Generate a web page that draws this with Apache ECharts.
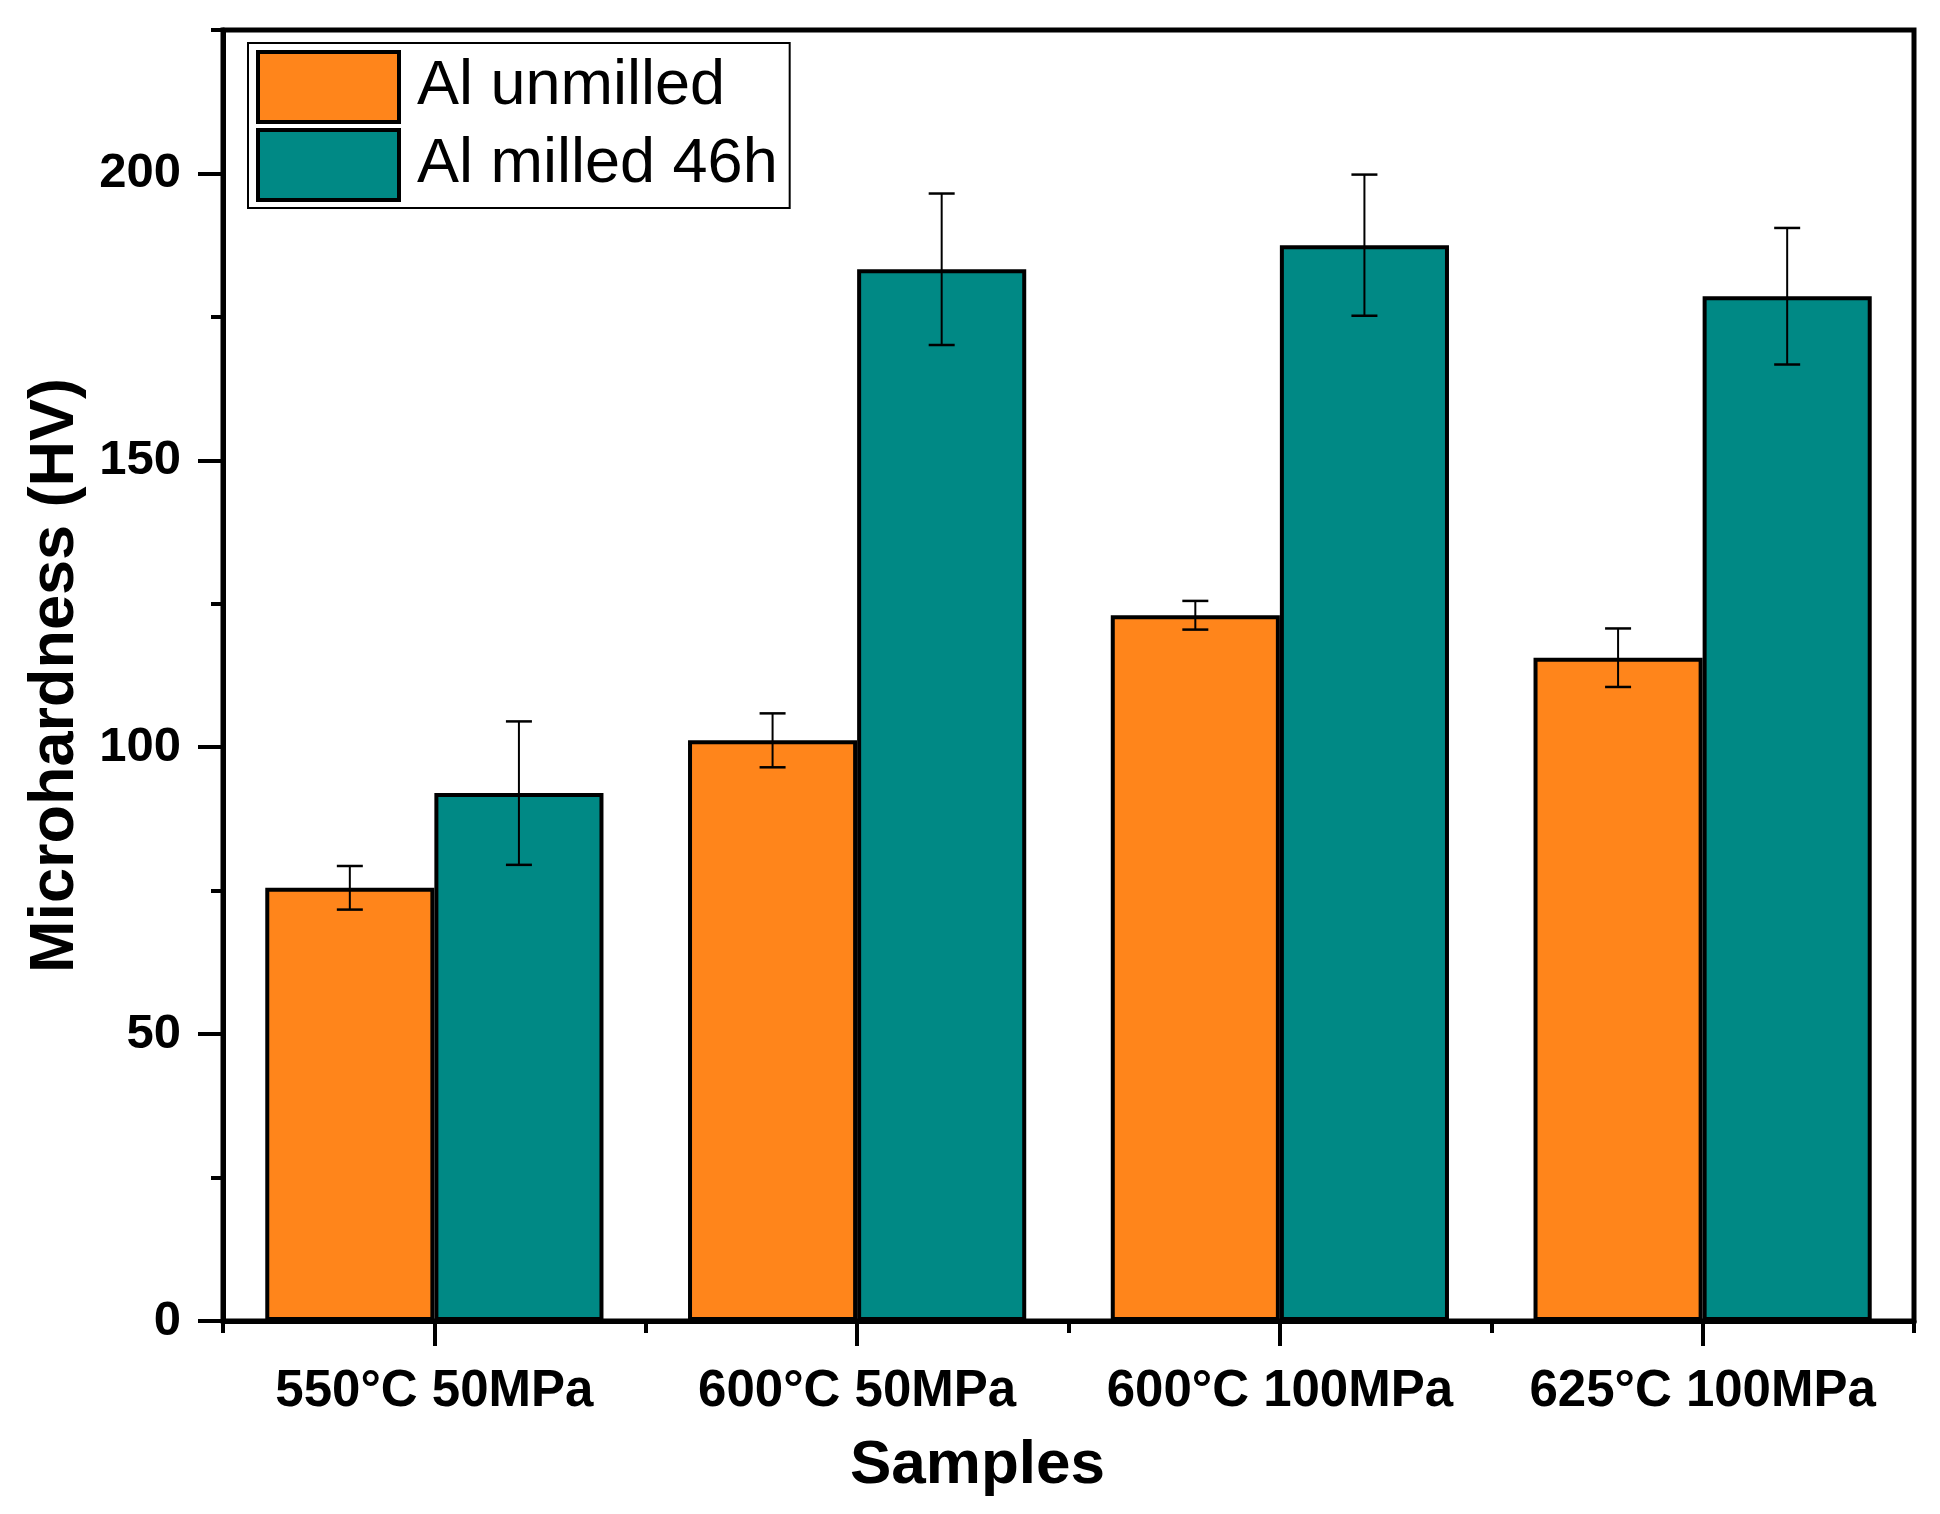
<!DOCTYPE html>
<html>
<head>
<meta charset="utf-8">
<script src="https://cdn.jsdelivr.net/npm/echarts@6/dist/echarts.min.js"></script>
<style>
html,body{margin:0;padding:0;background:#fff;}
#chart{width:1940px;height:1514px;}
</style>
</head>
<body>
<div id="chart"></div>
<script>
const categories = ['550°C 50MPa', '600°C 50MPa', '600°C 100MPa', '625°C 100MPa'];
const seriesNames = ['Al unmilled', 'Al milled 46h'];
const unmilled = [75.5, 101.2, 123.0, 115.6];
const unmilledErr = [3.8, 4.7, 2.5, 5.1];
const milled = [92.0, 183.3, 187.5, 178.6];
const milledErr = [12.5, 13.2, 12.3, 11.9];
const majorTicks = [0, 50, 100, 150, 200];
const minorTicks = [25, 75, 125, 175, 225];

const FONT = '"Liberation Sans", Arial, sans-serif';
const ORANGE = '#FF851B';
const TEAL = '#008985';

function errData(vals, errs) {
  return vals.map((v, i) => [i, v - errs[i], v + errs[i]]);
}

function errRender(sign) {
  return function (params, api) {
    const idx = api.value(0);
    const band = api.size([1, 0])[0];
    const off = sign * 0.2 * band;
    const lo = api.coord([idx, api.value(1)]);
    const hi = api.coord([idx, api.value(2)]);
    const x = lo[0] + off;
    const cap = 13;
    return {
      type: 'group',
      children: [
        {type: 'line', shape: {x1: x, y1: hi[1], x2: x, y2: lo[1]}, style: {stroke: '#000', lineWidth: 2}},
        {type: 'line', shape: {x1: x - cap, y1: hi[1], x2: x + cap, y2: hi[1]}, style: {stroke: '#000', lineWidth: 2.5}},
        {type: 'line', shape: {x1: x - cap, y1: lo[1], x2: x + cap, y2: lo[1]}, style: {stroke: '#000', lineWidth: 2.5}}
      ]
    };
  };
}

const chart = echarts.init(document.getElementById('chart'), null, {renderer: 'canvas'});
chart.setOption({
  animation: false,
  backgroundColor: '#fff',
  textStyle: {fontFamily: FONT},
  grid: {left: 223, right: 26, top: 30, bottom: 193, show: true, borderColor: '#000', borderWidth: 5, backgroundColor: 'transparent'},
  legend: {
    data: seriesNames,
    orient: 'vertical',
    left: 248, top: 43,
    itemWidth: 141, itemHeight: 70, itemGap: 4,
    padding: [7, 12, 6, 8],
    borderColor: '#000', borderWidth: 2,
    icon: 'rect',
    itemStyle: {borderColor: '#000', borderWidth: 4},
    textStyle: {fontSize: 63, lineHeight: 70, color: '#000', fontFamily: FONT, padding: [0, 0, 0, 13]}
  },
  xAxis: [
    {
      type: 'category', data: categories, position: 'bottom',
      axisLine: {show: true, lineStyle: {color: '#000', width: 5}},
      axisTick: {show: true, length: 12, lineStyle: {color: '#000', width: 4}},
      axisLabel: {color: '#000', fontSize: 51, fontWeight: 'bold', fontFamily: FONT, margin: 45, interval: 0},
      splitLine: {show: false},
      name: 'Samples', nameLocation: 'middle', nameGap: 114,
      nameTextStyle: {color: '#000', fontSize: 62, fontWeight: 'bold', fontFamily: FONT, padding: [0, 182, 0, 0]}
    },
    {
      type: 'category', data: categories, position: 'bottom',
      axisLine: {show: false},
      axisTick: {show: true, alignWithLabel: true, length: 25, lineStyle: {color: '#000', width: 4}},
      axisLabel: {show: false},
      splitLine: {show: false}
    }
  ],
  yAxis: [
    {
      type: 'value', min: 0, max: 225, interval: 25, position: 'left',
      axisLine: {show: true, lineStyle: {color: '#000', width: 5}},
      axisTick: {show: true, length: 25, customValues: majorTicks, lineStyle: {color: '#000', width: 4}},
      axisLabel: {color: '#000', fontSize: 49, fontWeight: 'bold', fontFamily: FONT, margin: 42, customValues: majorTicks},
      splitLine: {show: false},
      name: 'Microhardness (HV)', nameLocation: 'middle', nameGap: 136,
      nameTextStyle: {color: '#000', fontSize: 63, fontWeight: 'bold', fontFamily: FONT}
    },
    {
      type: 'value', min: 0, max: 225, interval: 25, position: 'left',
      axisLine: {show: false},
      axisTick: {show: true, length: 12, customValues: minorTicks, lineStyle: {color: '#000', width: 4}},
      axisLabel: {show: false},
      splitLine: {show: false}
    }
  ],
  series: [
    {
      name: seriesNames[0], type: 'bar', data: unmilled,
      barGap: '0%', barCategoryGap: '20%',
      itemStyle: {color: ORANGE, borderColor: '#000', borderWidth: 4}
    },
    {
      name: seriesNames[1], type: 'bar', data: milled,
      barGap: '0%', barCategoryGap: '20%',
      itemStyle: {color: TEAL, borderColor: '#000', borderWidth: 4}
    },
    {
      name: 'err1', type: 'custom', z: 5, data: errData(unmilled, unmilledErr),
      renderItem: errRender(-1), encode: {x: 0, y: [1, 2]}
    },
    {
      name: 'err2', type: 'custom', z: 5, data: errData(milled, milledErr),
      renderItem: errRender(1), encode: {x: 0, y: [1, 2]}
    }
  ]
});
</script>
</body>
</html>
